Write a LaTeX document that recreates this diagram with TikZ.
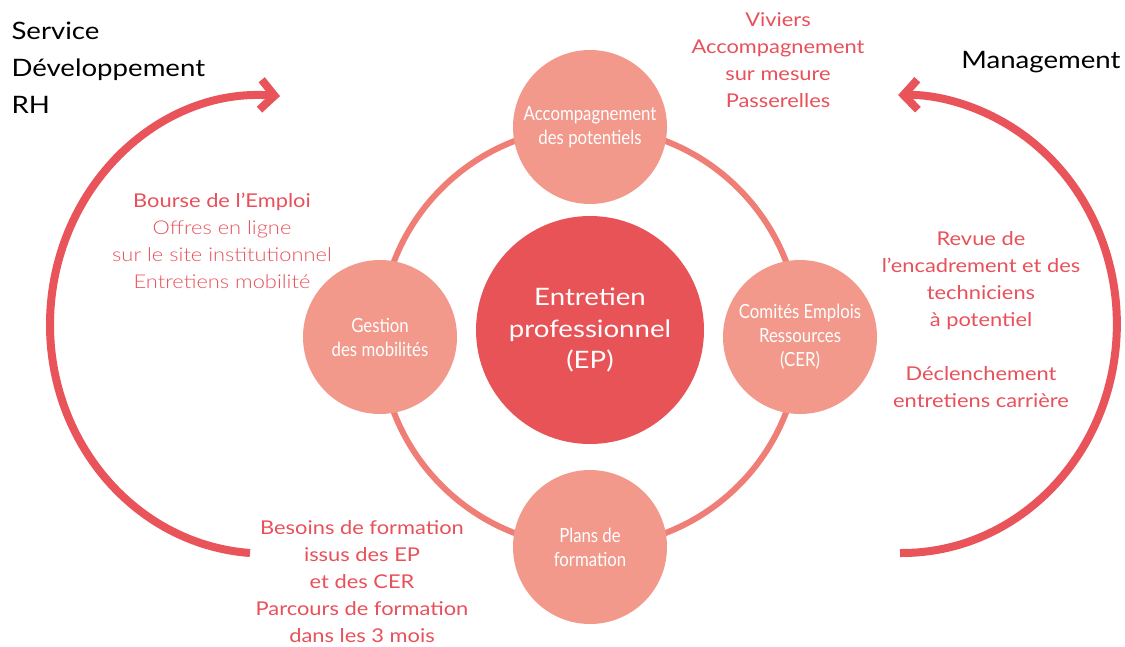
\documentclass[tikz,border=0pt]{standalone}
\usepackage{fontspec}
\usepackage{tikz}
\usetikzlibrary{arrows.meta}
\setmainfont{Lato}[FakeStretch=1.15]
\newfontfamily\thinfont{Lato Light}[FakeStretch=1.15]
\newfontfamily\condfont{Lato}[FakeStretch=0.86]
\definecolor{cyclered}{HTML}{E9535A}
\definecolor{ringpink}{HTML}{EF7F76}
\definecolor{spokepink}{HTML}{F2998C}
\definecolor{hubred}{HTML}{E85357}
\definecolor{labelred}{HTML}{E8505A}
\begin{document}
\begin{tikzpicture}[x=1pt,y=-1pt,
    blocktext/.style={text=labelred,align=center,font=\fontsize{19}{27}\selectfont},
    headtext/.style={text=black,align=left,font=\fontsize{24}{37}\selectfont},
    spoke/.style={circle,fill=spokepink,minimum size=154pt,inner sep=0pt,align=center,
        text=white,font=\condfont\fontsize{19.5}{24}\selectfont},
    hub/.style={circle,fill=hubred,minimum size=228pt,inner sep=0pt,align=center,
        text=white,font=\fontsize{24}{31.5}\selectfont},
    loopline/.style={draw=cyclered,line width=8pt,-{Straight Barb[length=14pt,width=30pt,sharp]}}]
    \useasboundingbox (0,0) rectangle (1125,646);
    % ring and its four circles
    \node [circle,draw=ringpink,line width=6pt,minimum size=420pt,outer sep=0pt] (ring) at (590,337) {};
    \node [spoke] (potentiels) at (ring.north) {Accompagnement\\des potentiels};
    \node [spoke] (mobilites) at (ring.west) {Gestion\\des mobilités};
    \node [spoke] (cer) at (ring.east) {Comités Emplois\\Ressources\\(CER)};
    \node [spoke] (formation) at (ring.south) {Plans de\\formation};
    \node [hub] (ep) at (590,330) {Entretien\\professionnel\\(EP)};
    % the two loops
    \coordinate (rhstart) at (250,553);
    \coordinate (mgtstart) at (900,553);
    \draw [loopline] (rhstart) arc [start angle=94, end angle=274, x radius=215, y radius=229];
    \draw [loopline] (mgtstart) arc [start angle=90.5, end angle=-91, x radius=215, y radius=229];
    % texts
    \node [headtext,anchor=west] (rh) at (8,68) {Service\\Développement\\RH};
    \node [headtext,anchor=east] (management) at (1124,62) {Management};
    \node [blocktext] (viviers) at (778,60) {Viviers\\Accompagnement\\sur mesure\\Passerelles};
    \node [blocktext] (bourse) at (222,241) {Bourse de l’Emploi\\{\thinfont Offres en ligne}\\{\thinfont sur le site institutionnel}\\{\thinfont Entretiens mobilité}};
    \node [blocktext] (revue) at (981,320) {Revue de\\l’encadrement et des\\techniciens\\à potentiel\\[27pt]Déclenchement\\entretiens carrière};
    \node [blocktext] (besoins) at (362,582) {Besoins de formation\\issus des EP\\et des CER\\Parcours de formation\\dans les 3 mois};
\end{tikzpicture}
\end{document}
